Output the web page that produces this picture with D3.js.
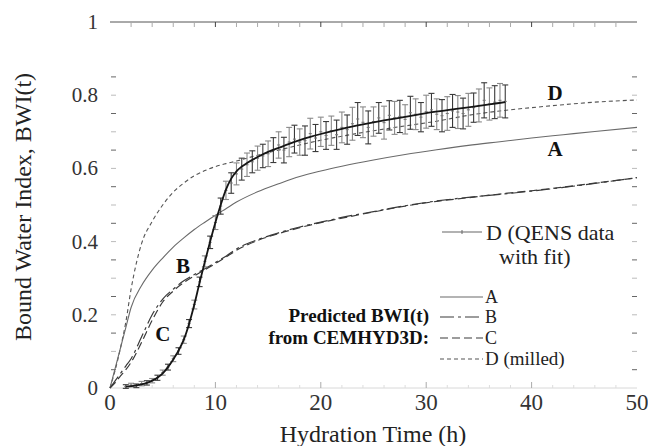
<!DOCTYPE html>
<html><head><meta charset="utf-8">
<script src="https://cdn.jsdelivr.net/npm/d3@7/dist/d3.min.js"></script>
<style>
html,body{margin:0;padding:0;background:#fff;}
svg{display:block;}
</style></head>
<body>
<svg id="chart" width="648" height="446"></svg>
<script>
// ---------- data ----------
const modelTime = [0,0.5,1,1.5,2,3,4,5,6,7,8,9,10,11,12,14,16,18,20,22,25,28,31,34,37,40,43,46,50];
const seriesA   = [0,0.055,0.11,0.165,0.22,0.28,0.322,0.355,0.385,0.41,0.433,0.453,0.472,0.49,0.508,0.536,0.558,0.578,0.593,0.606,0.623,0.638,0.651,0.663,0.673,0.683,0.692,0.701,0.712];
const seriesB   = [0,0.02,0.04,0.06,0.08,0.14,0.2,0.243,0.27,0.293,0.31,0.326,0.343,0.36,0.38,0.405,0.424,0.44,0.453,0.466,0.482,0.498,0.511,0.521,0.529,0.538,0.548,0.559,0.575];
const seriesC   = [0,0.015,0.033,0.05,0.07,0.125,0.185,0.235,0.265,0.288,0.306,0.323,0.34,0.358,0.376,0.403,0.422,0.438,0.452,0.464,0.481,0.497,0.51,0.52,0.53,0.539,0.549,0.56,0.574];
const seriesDm  = [0,0.05,0.11,0.18,0.27,0.395,0.455,0.5,0.535,0.56,0.58,0.594,0.605,0.613,0.62,0.636,0.65,0.664,0.677,0.688,0.703,0.716,0.729,0.745,0.757,0.766,0.774,0.781,0.787];

const fitTime  = [1.5,2,2.5,3,3.5,4,4.5,5,5.5,6,6.5,7,7.5,8,8.5,9,9.5,10,10.5,11,11.5,12,12.5,13,14,15,16,17,18,19,20,22,24,26,28,30,32,34,36,37.5];
const fitValue = [0.004,0.005,0.007,0.01,0.014,0.02,0.028,0.04,0.057,0.078,0.102,0.132,0.175,0.228,0.288,0.345,0.4,0.452,0.5,0.542,0.572,0.592,0.605,0.615,0.631,0.645,0.656,0.667,0.677,0.686,0.694,0.708,0.72,0.731,0.741,0.751,0.759,0.767,0.775,0.781];

const qensTime = [1.5,2,2.5,3,3.5,4,4.5,5,5.5,6,6.5,7,7.5,8,8.5,9,9.5,10,10.5,11,11.5,12,12.5,13,13.5,14,14.5,15,15.5,16,16.5,17,17.5,18,18.5,19,19.5,20,20.5,21,21.5,22,22.5,23,23.5,24,24.5,25,25.5,26,26.5,27,27.5,28,28.5,29,29.5,30,30.5,31,31.5,32,32.5,33,33.5,34,34.5,35,35.5,36,36.5,37,37.5];
const qensValue = [0.004,0.008,0.006,0.012,0.014,0.02,0.028,0.042,0.057,0.08,0.101,0.132,0.176,0.228,0.29,0.346,0.398,0.452,0.497,0.54,0.56,0.585,0.598,0.61,0.618,0.628,0.634,0.64,0.65,0.664,0.65,0.672,0.68,0.672,0.676,0.695,0.683,0.7,0.69,0.703,0.692,0.712,0.706,0.722,0.735,0.726,0.712,0.728,0.738,0.725,0.745,0.738,0.742,0.734,0.752,0.748,0.74,0.755,0.76,0.748,0.744,0.75,0.757,0.754,0.75,0.76,0.766,0.772,0.786,0.776,0.781,0.786,0.783];
const qensError = [0.005,0.005,0.005,0.006,0.006,0.006,0.007,0.007,0.008,0.008,0.009,0.01,0.011,0.012,0.013,0.015,0.017,0.019,0.022,0.025,0.028,0.03,0.03,0.032,0.03,0.033,0.032,0.035,0.034,0.036,0.035,0.04,0.038,0.036,0.04,0.042,0.037,0.04,0.038,0.04,0.04,0.042,0.04,0.045,0.045,0.042,0.045,0.04,0.042,0.045,0.04,0.045,0.044,0.04,0.045,0.042,0.04,0.045,0.045,0.042,0.044,0.046,0.045,0.045,0.042,0.045,0.04,0.045,0.048,0.044,0.045,0.046,0.045];

const xTicks = [0,10,20,30,40,50];
const yTicks = [0,0.2,0.4,0.6,0.8,1];
const yTickLabels = ["0","0.2","0.4","0.6","0.8","1"];
const yMinorTicks = [0.05,0.1,0.15,0.2,0.25,0.3,0.35,0.4,0.45,0.5,0.55,0.6,0.65,0.7,0.75,0.8,0.85];
const xMinorTicks = [2,4,6,8,10,12,14,16,18,20,22,24,26,28,30,32,34,36,38,40,42,44,46,48];

const legendItems = [
  {key:"A", label:"A"},
  {key:"B", label:"B"},
  {key:"C", label:"C"},
  {key:"Dm", label:"D (milled)"}
];

// ---------- scales ----------
const svg = d3.select("#chart");
const x = d3.scaleLinear().domain([0,50]).range([110,637]);
const y = d3.scaleLinear().domain([0,1]).range([388,22]);

const serif = "'Liberation Serif','Times New Roman',serif";
const styles = {
  A:  {stroke:"#6a6a6a", width:1.1, dash:null},
  B:  {stroke:"#3a3a3a", width:1.2, dash:"14,4,3,4"},
  C:  {stroke:"#3a3a3a", width:1.2, dash:"8,4"},
  Dm: {stroke:"#555", width:1.1, dash:"4,3"}
};
const seriesData = {A:seriesA, B:seriesB, C:seriesC, Dm:seriesDm};

// ---------- frame ----------
svg.append("line").attr("x1",x(0)).attr("x2",x(50)).attr("y1",y(1)).attr("y2",y(1))
  .attr("stroke","#555").attr("stroke-width",1);
svg.append("line").attr("x1",x(0)).attr("x2",x(50)).attr("y1",y(0)).attr("y2",y(0))
  .attr("stroke","#d8d8d8").attr("stroke-width",1);

svg.append("g").selectAll("line").data(xMinorTicks).join("line")
  .attr("x1",d=>x(d)).attr("x2",d=>x(d)).attr("y1",y(1)).attr("y2",y(1)+5)
  .attr("stroke",d=>d%10===0?"#444":"#aaa").attr("stroke-width",1);
svg.append("g").selectAll("line").data(xMinorTicks).join("line")
  .attr("x1",d=>x(d)).attr("x2",d=>x(d)).attr("y1",y(0)).attr("y2",d=>y(0)-(d%10===0?6:3))
  .attr("stroke",d=>d%10===0?"#aaa":"#ddd").attr("stroke-width",1);
svg.append("g").selectAll("line").data(yMinorTicks).join("line")
  .attr("x1",x(0)+1).attr("x2",x(0)+6).attr("y1",d=>y(d)).attr("y2",d=>y(d))
  .attr("stroke",(d,i)=>i%2===0?"#666":"#bbb").attr("stroke-width",1);
svg.append("g").selectAll("line").data(yMinorTicks).join("line")
  .attr("x1",x(50)-5).attr("x2",x(50)).attr("y1",d=>y(d)).attr("y2",d=>y(d))
  .attr("stroke",(d,i)=>i%2===0?"#666":"#bbb").attr("stroke-width",1);

svg.append("g").selectAll("text").data(xTicks).join("text")
  .attr("x",d=>x(d)).attr("y",y(0)+22).attr("text-anchor","middle")
  .attr("font-family",serif).attr("font-size",23).attr("fill","#333")
  .text(d=>d);
svg.append("g").selectAll("text").data(yTicks).join("text")
  .attr("x",98).attr("y",d=>y(d)+7).attr("text-anchor","end")
  .attr("font-family",serif).attr("font-size",21).attr("fill","#333")
  .text((d,i)=>yTickLabels[i]);

svg.append("text").attr("x",373).attr("y",442).attr("text-anchor","middle")
  .attr("font-family",serif).attr("font-size",24).attr("fill","#222")
  .text("Hydration Time (h)");
svg.append("text").attr("transform","translate(31,207) rotate(-90)").attr("text-anchor","middle")
  .attr("font-family",serif).attr("font-size",24).attr("fill","#222")
  .text("Bound Water Index, BWI(t)");

// ---------- model curves ----------
const line = d3.line().x(d=>x(d[0])).y(d=>y(d[1])).curve(d3.curveMonotoneX);
["Dm","A","C","B"].forEach(k=>{
  const pts = modelTime.map((t,i)=>[t, seriesData[k][i]]);
  svg.append("path").attr("d",line(pts)).attr("fill","none")
    .attr("stroke",styles[k].stroke).attr("stroke-width",styles[k].width)
    .attr("stroke-dasharray",styles[k].dash);
});

// ---------- QENS data ----------
const gErr = svg.append("g");
qensTime.forEach((t,i)=>{
  const col = i%2===0 ? "#3a3a3a" : "#8a8a8a";
  const v = qensValue[i], e = qensError[i];
  const g = gErr.append("g").attr("stroke",col).attr("stroke-width",1.1);
  g.append("line").attr("x1",x(t)).attr("x2",x(t)).attr("y1",y(v-e)).attr("y2",y(v+e));
  g.append("line").attr("x1",x(t)-3).attr("x2",x(t)+3).attr("y1",y(v-e)).attr("y2",y(v-e));
  g.append("line").attr("x1",x(t)-3).attr("x2",x(t)+3).attr("y1",y(v+e)).attr("y2",y(v+e));
  g.append("line").attr("x1",x(t)-1.5).attr("x2",x(t)+1.5).attr("y1",y(v)).attr("y2",y(v)).attr("stroke","#777");
});
const fitPts = fitTime.map((t,i)=>[t, fitValue[i]]);
svg.append("path").attr("d",line(fitPts)).attr("fill","none")
  .attr("stroke","#151515").attr("stroke-width",1.8);

// ---------- in-plot labels ----------
const labels = [
  {t:"D", xv:41.5, yv:0.788},
  {t:"A", xv:41.5, yv:0.634},
  {t:"B", xv:6.25, yv:0.314},
  {t:"C", xv:4.3, yv:0.128}
];
svg.append("g").selectAll("text").data(labels).join("text")
  .attr("x",d=>x(d.xv)).attr("y",d=>y(d.yv)).attr("font-family",serif)
  .attr("font-weight","bold").attr("font-size",21).attr("fill","#111")
  .text(d=>d.t);

// ---------- legend ----------
const lg = svg.append("g");
lg.append("line").attr("x1",442).attr("x2",482).attr("y1",232).attr("y2",232)
  .attr("stroke","#666").attr("stroke-width",1.1);
lg.append("line").attr("x1",462).attr("x2",462).attr("y1",230).attr("y2",234)
  .attr("stroke","#666").attr("stroke-width",1);
lg.append("text").attr("x",486).attr("y",240).attr("font-family",serif)
  .attr("font-size",22).attr("fill","#222").text("D (QENS data");
lg.append("text").attr("x",499).attr("y",264).attr("font-family",serif)
  .attr("font-size",22).attr("fill","#222").text("with fit)");

const legendY = {A:297, B:317, C:338, Dm:359};
legendItems.forEach(it=>{
  const s = styles[it.key];
  lg.append("line").attr("x1",440).attr("x2",483).attr("y1",legendY[it.key]).attr("y2",legendY[it.key])
    .attr("stroke",s.stroke).attr("stroke-width",s.width).attr("stroke-dasharray",s.dash);
  lg.append("text").attr("x",485).attr("y",legendY[it.key]+6).attr("font-family",serif)
    .attr("font-size",it.key==="Dm"?19:18).attr("fill","#222").text(it.label);
});
lg.append("text").attr("x",429).attr("y",322).attr("text-anchor","end").attr("font-family",serif)
  .attr("font-weight","bold").attr("font-size",19).attr("fill","#111").text("Predicted BWI(t)");
lg.append("text").attr("x",429).attr("y",344).attr("text-anchor","end").attr("font-family",serif)
  .attr("font-weight","bold").attr("font-size",19).attr("fill","#111").text("from CEMHYD3D:");
</script>
</body></html>
